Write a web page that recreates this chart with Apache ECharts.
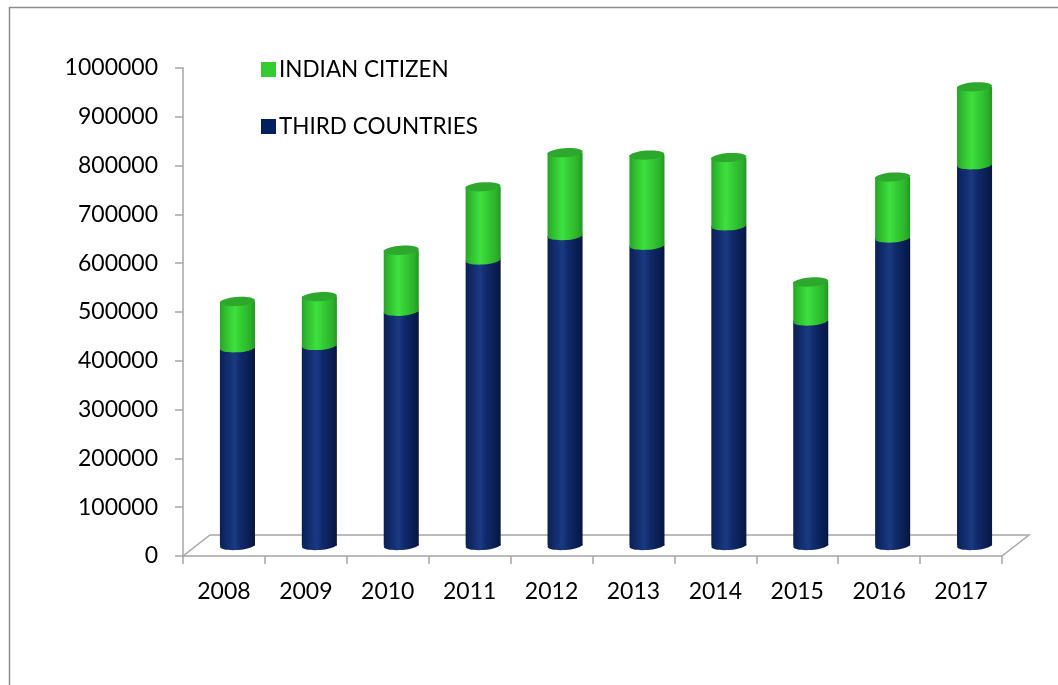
<!DOCTYPE html>
<html><head><meta charset="utf-8">
<script src="https://cdn.jsdelivr.net/npm/echarts@6/dist/echarts.min.js"></script>
<style>html,body{margin:0;padding:0;background:#fff}#c{width:1058px;height:685px}</style>
</head><body><div id="c"></div>
<script>
const years = ['2008','2009','2010','2011','2012','2013','2014','2015','2016','2017'];
const thirdCountries = [405000, 410000, 480000, 585000, 635000, 615000, 655000, 460000, 630000, 780000];
const indianCitizen = [95000, 100000, 125000, 150000, 170000, 185000, 140000, 80000, 125000, 160000];
const yMin = 0, yMax = 1000000, yStep = 100000;

const DX = 27, DY = -21, RY = 4.5, TILT = 0.07;
const AXIS_GRAY = '#a6a6a6';

const navyStops = [
  {offset:0, color:'#0b1f55'}, {offset:0.15, color:'#0f2866'},
  {offset:0.42, color:'#1b3a82'}, {offset:0.6, color:'#0f2969'},
  {offset:0.88, color:'#091c4e'}, {offset:1, color:'#07163d'}];
const greenStops = [
  {offset:0, color:'#27a327'}, {offset:0.15, color:'#2fbe2f'},
  {offset:0.42, color:'#3fe03f'}, {offset:0.6, color:'#34cd34'},
  {offset:0.88, color:'#2bb02b'}, {offset:1, color:'#249424'}];

function cylRender(stops, capColor, isTop) {
  return function (params, api) {
    const i = api.value(0), s = api.value(1), e = api.value(2);
    const p0 = api.coord([i, s]), p1 = api.coord([i, e]);
    const bw = api.size([1, 0])[0];
    const rx = bw * 0.214;
    const cx = p0[0] + DX / 2, yb = p0[1] + DY / 2, yt = p1[1] + DY / 2;
    const grad = () => new echarts.graphic.LinearGradient(0, 0, 1, 0, stops);
    const children = [
      {type:'rect', shape:{x:cx - rx, y:yt, width:2 * rx, height:yb - yt}, style:{fill:grad()}},
      {type:'ellipse', shape:{cx:cx, cy:yb, rx:rx, ry:RY}, rotation:TILT, originX:cx, originY:yb, style:{fill:grad()}}
    ];
    if (isTop) {
      children.push({type:'ellipse', shape:{cx:cx, cy:yt, rx:rx, ry:RY}, rotation:TILT, originX:cx, originY:yt,
        style:{fill:capColor}});
    }
    return {type:'group', children:children};
  };
}

const tcData = years.map((y, i) => [i, 0, thirdCountries[i]]);
const icData = years.map((y, i) => [i, thirdCountries[i], thirdCountries[i] + indianCitizen[i]]);

const chart = echarts.init(document.getElementById('c'));
chart.setOption({
  animation:false,
  backgroundColor:'#fff',
  graphic:[{type:'rect', left:7, top:5, shape:{width:1100, height:720},
    style:{fill:'none', stroke:'#8c8c8c', lineWidth:1.5}, z:-10}],
  legend:{
    data:['INDIAN CITIZEN', 'THIRD COUNTRIES'],
    orient:'vertical', left:256, top:53, itemGap:34, itemWidth:15, itemHeight:15, icon:'rect',
    textStyle:{fontFamily:'Lato', fontSize:22.5, color:'#000', lineHeight:23, padding:[0,0,0,-2]}
  },
  grid:{left:183, right:56, top:68, bottom:129},
  xAxis:{type:'category', data:years, boundaryGap:true,
    axisLine:{lineStyle:{color:AXIS_GRAY, width:1.5}},
    axisTick:{show:true, length:8, lineStyle:{color:AXIS_GRAY, width:1.5}},
    axisLabel:{fontFamily:'Lato', fontSize:23, color:'#000', margin:24}},
  yAxis:{type:'value', min:yMin, max:yMax, interval:yStep,
    splitLine:{show:false},
    axisLine:{show:true, lineStyle:{color:AXIS_GRAY, width:1.5}},
    axisTick:{show:true, length:8, lineStyle:{color:AXIS_GRAY, width:1.5}},
    axisLabel:{fontFamily:'Lato', fontSize:23, color:'#000', margin:25, formatter:v => String(v)}},
  series:[
    {type:'custom', name:'floor', data:[[0]], clip:false, silent:true, z:1,
      renderItem:function (params, api) {
        const n = years.length;
        const a = api.coord([0, 0]), b = api.coord([n - 1, 0]);
        const bw = api.size([1, 0])[0];
        const x0 = a[0] - bw / 2, x1 = b[0] + bw / 2, y0 = a[1];
        return {type:'polyline', shape:{points:[[x0, y0], [x0 + DX, y0 + DY], [x1 + DX, y0 + DY], [x1, y0]]},
          style:{stroke:AXIS_GRAY, lineWidth:1.5, fill:null}};
      }},
    {type:'custom', name:'THIRD COUNTRIES', data:tcData, encode:{x:0, y:[1, 2]}, z:2,
      itemStyle:{color:'#002060'},
      renderItem:cylRender(navyStops, '#0f2866', false)},
    {type:'custom', name:'INDIAN CITIZEN', data:icData, encode:{x:0, y:[1, 2]}, z:3,
      itemStyle:{color:'#33cc33'},
      renderItem:cylRender(greenStops, '#2da82d', true)}
  ]
});
</script></body></html>
